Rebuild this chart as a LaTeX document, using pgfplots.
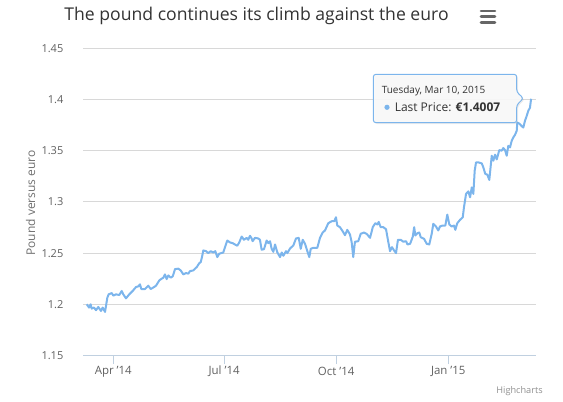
\documentclass[border=0pt]{standalone}
\usepackage{pgfplots}
\pgfplotsset{compat=1.18}
\usepackage{pgfplotstable}
\usepackage{fontspec}
\setmainfont{Open Sans}
\usetikzlibrary{shadows}
\definecolor{series}{HTML}{7CB5EC}
\definecolor{gridc}{HTML}{D8D8D8}
\definecolor{axisc}{HTML}{C0D0E0}
\definecolor{labelc}{HTML}{606060}
\definecolor{titlec}{HTML}{333333}
\definecolor{ytitlec}{HTML}{707070}
\definecolor{creditc}{HTML}{909090}
\definecolor{menuc}{HTML}{666666}
\definecolor{tipbg}{HTML}{F9F9F9}

\pgfplotstableread{
day price
-21.8 1.2000
-19.9 1.1968
-18.6 1.2000
-17.7 1.1958
-15.8 1.1968
-14.2 1.1942
-12.3 1.1974
-10.1 1.1935
-8.7 1.1968
-6.8 1.1925
-4.9 1.2065
-3.8 1.2097
-1.3 1.2110
0 1.2085
2.2 1.2097
4.9 1.2091
6.9 1.2130
8.2 1.2097
10.4 1.2058
13.1 1.2097
15.9 1.2130
18.6 1.2168
20.5 1.2175
21.9 1.2195
23.0 1.2149
26.0 1.2149
28.7 1.2182
30.7 1.2149
33.4 1.2168
35.1 1.2182
37.8 1.2234
39.7 1.2250
41.1 1.2260
42.4 1.2292
43.8 1.2246
45.2 1.2282
47.1 1.2260
48.8 1.2273
50.7 1.2344
53.4 1.2348
55.3 1.2331
57.5 1.2292
59.7 1.2305
61.6 1.2299
63.0 1.2324
65.7 1.2331
68.5 1.2363
70.6 1.2402
71.8 1.2412
72.8 1.2461
73.9 1.2526
76.1 1.2519
78.0 1.2500
80.0 1.2519
82.1 1.2506
83.7 1.2519
85.4 1.2461
87.0 1.2494
90.3 1.2506
91.7 1.2558
93.6 1.2623
95.8 1.2604
98.0 1.2597
99.9 1.2584
101.8 1.2572
103.4 1.2604
105.4 1.2662
107.3 1.2630
109.5 1.2649
110.8 1.2630
112.2 1.2669
113.6 1.2643
114.4 1.2616
116.3 1.2649
119.0 1.2643
120.4 1.2630
121.8 1.2533
123.7 1.2538
125.9 1.2623
127.3 1.2597
128.7 1.2616
130.0 1.2542
131.4 1.2513
132.8 1.2584
134.6 1.2509
136.9 1.2461
138.3 1.2506
139.6 1.2474
141.8 1.2519
142.9 1.2500
145.1 1.2545
147.8 1.2574
150.0 1.2643
152.2 1.2649
153.9 1.2542
155.5 1.2630
157.4 1.2591
159.3 1.2519
160.9 1.2461
162.1 1.2542
164.2 1.2552
167.5 1.2552
169.7 1.2649
171.9 1.2701
173.8 1.2721
176.5 1.2792
179.3 1.2811
181.4 1.2811
182.8 1.2850
183.9 1.2769
186.1 1.2753
188.3 1.2714
190.2 1.2675
192.1 1.2727
194.3 1.2682
195.7 1.2607
197.0 1.2461
198.4 1.2611
201.1 1.2616
203.1 1.2688
205.8 1.2701
208.0 1.2688
210.8 1.2649
213.0 1.2753
215.1 1.2792
216.8 1.2779
217.9 1.2805
219.5 1.2753
221.7 1.2753
223.9 1.2733
225.8 1.2607
227.2 1.2519
228.8 1.2558
230.5 1.2526
232.1 1.2500
233.7 1.2630
236.0 1.2630
238.1 1.2611
240.4 1.2616
241.5 1.2584
243.7 1.2591
245.9 1.2662
247.0 1.2753
248.0 1.2672
249.6 1.2694
251.2 1.2701
252.4 1.2655
255.1 1.2640
257.3 1.2591
259.4 1.2584
261.4 1.2688
262.7 1.2786
264.9 1.2760
266.8 1.2721
268.2 1.2760
270.4 1.2769
272.6 1.2769
274.2 1.2876
275.9 1.2779
277.8 1.2760
279.7 1.2769
280.8 1.2727
282.4 1.2792
284.7 1.2825
286.9 1.2850
287.9 1.2947
289.6 1.3078
291.5 1.3103
292.9 1.3045
294.3 1.3142
295.6 1.3078
296.7 1.3305
297.8 1.3386
299.7 1.3386
302.5 1.3376
303.8 1.3337
305.4 1.3273
307.1 1.3266
308.7 1.3214
310.7 1.3451
312.0 1.3402
313.4 1.3461
314.8 1.3415
316.9 1.3506
318.9 1.3500
320.2 1.3526
321.6 1.3506
323.0 1.3451
324.3 1.3548
325.7 1.3532
327.1 1.3597
328.4 1.3629
329.8 1.3655
331.2 1.3694
331.7 1.3775
333.3 1.3765
335.3 1.3740
336.6 1.3726
338.0 1.3792
339.4 1.3840
340.7 1.3889
342.1 1.3921
343.0 1.4007
}\gbpeur

\begin{document}
\begin{tikzpicture}[x=0.75pt,y=0.75pt]
\path[use as bounding box] (0pt,0pt) rectangle (422.25pt,301.5pt);
\begin{axis}[
  at={(62.475pt,34.875pt)}, anchor=south west,
  scale only axis,
  width=339.3pt, height=230.4pt,
  xmin=-24.63, xmax=346.8,
  ymin=1.15, ymax=1.45,
  axis x line*=bottom,
  axis y line*=left,
  y axis line style={draw=none},
  x axis line style={draw=axisc, line width=0.75pt},
  xtick={0,91,183,275},
  xticklabels={Apr '14,Jul '14,Oct '14,Jan '15},
  ytick={1.15,1.2,1.25,1.3,1.35,1.4,1.45},
  yticklabels={1.15,1.2,1.25,1.3,1.35,1.4,1.45},
  tick align=outside,
  xtick style={draw=axisc, line width=0.75pt},
  ytick style={draw=none},
  major tick length=6.5pt,
  ymajorgrids,
  major grid style={draw=gridc, line width=0.75pt},
  xticklabel style={font=\fontsize{8.6pt}{10pt}\selectfont, text=labelc, anchor=center, yshift=-5.6pt},
  yticklabel style={font=\fontsize{8.25pt}{10pt}\selectfont, text=labelc, anchor=east, inner sep=0pt, xshift=-8.3pt},
  clip=false,
]
\addplot[series, line width=1.5pt, line join=round] table[x=day, y=price] {\gbpeur};
\end{axis}
% title
\node[anchor=base, text=titlec, font=\fontsize{13.2pt}{16pt}\selectfont, inner sep=0pt] at (256.5,381.3) {The pound continues its climb against the euro};
% menu icon
\foreach \yy in {391,385.3,379.7}{
  \draw[menuc, line width=1.9pt, line cap=round] (481,\yy) -- (495,\yy);
}
% y axis title
\node[rotate=90, text=ytitlec, font=\fontsize{9pt}{11pt}\selectfont, inner sep=0pt] at (30.7,199) {Pound versus euro};
% credits
\node[anchor=east, text=creditc, font=\fontsize{6.9pt}{8pt}\selectfont, inner sep=0pt] at (543,11) {Highcharts};
% tooltip
\draw[draw=series, line width=0.75pt, fill=tipbg, fill opacity=0.92, rounded corners=2pt,
      drop shadow={shadow xshift=1pt, shadow yshift=-1pt, opacity=0.15}]
  (373.3,327.7) -- (516.7,327.7) -- (516.7,310) -- (523.5,303.7) -- (516.7,297) -- (516.7,279.3) -- (373.3,279.3) -- cycle;
\node[anchor=west, text=titlec, font=\fontsize{7.5pt}{9pt}\selectfont, inner sep=0pt] at (381.5,311) {Tuesday, Mar 10, 2015};
\fill[series] (387,294.7) circle (2.6);
\node[anchor=west, text=titlec, font=\fontsize{9pt}{11pt}\selectfont, inner sep=0pt] at (394.5,294.7) {Last Price: \textbf{€1.4007}};
\end{tikzpicture}
\end{document}
